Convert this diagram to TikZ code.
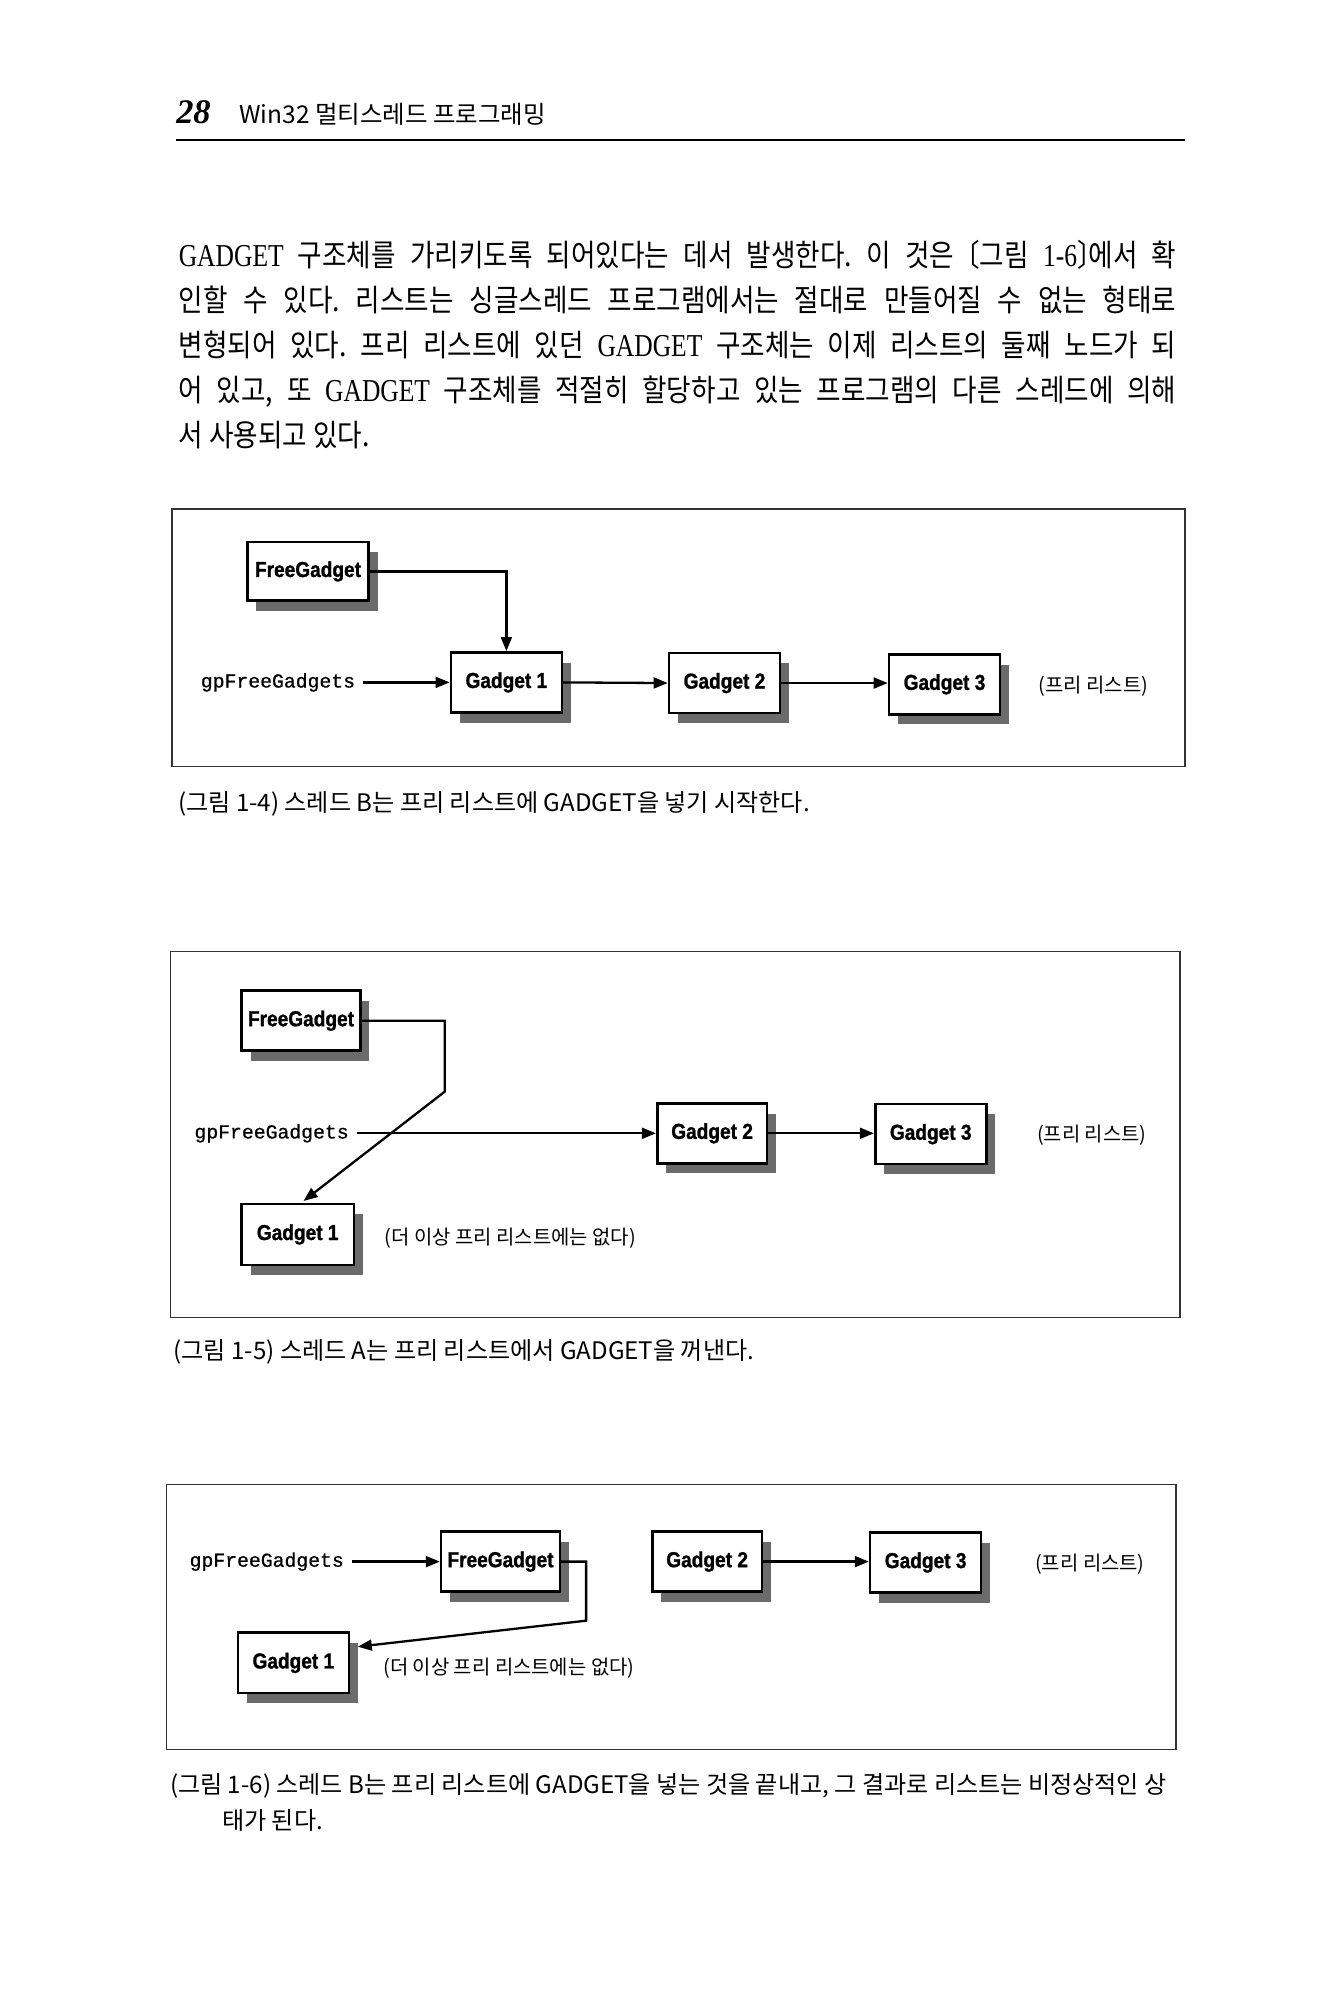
\documentclass[tikz,border=0pt]{standalone}
\usepackage{fontspec}
\usetikzlibrary{arrows.meta,shadows,calc}
\setmainfont{Liberation Serif}
\newfontfamily\krfont{Noto Sans CJK KR}
\newfontfamily\krbodyfont[FakeStretch=0.87]{Noto Sans CJK KR}
\newfontfamily\latbodyfont[FakeStretch=0.8]{Liberation Serif}
\newfontfamily\boxfont[FakeStretch=0.88,FakeBold=1.2]{Liberation Sans Bold}
\newfontfamily\codefont[FakeBold=0.7]{Liberation Mono}
\frenchspacing

% one justified line of the body paragraph
\newcommand\bodyline[1]{{\krbodyfont\fontsize{24}{28}\selectfont\makebox[782pt][s]{#1}}}
\newcommand\bodyleft[1]{{\krbodyfont\fontsize{24}{28}\selectfont #1}}
% Latin words inside the body paragraph
\newcommand\LB[1]{{\latbodyfont\fontsize{25}{28}\selectfont #1}}
% half-width tortoise-shell brackets
\newcommand\lbr{\kern-0.5em〔}
\newcommand\rbr{〕\kern-0.5em}

\tikzset{
  gbox/.style={draw, line width=2pt, fill=white, minimum width=87pt,
    minimum height=47pt, inner sep=0pt,
    font=\boxfont\fontsize{17}{20}\selectfont,
    drop shadow={shadow xshift=7pt, shadow yshift=-8pt, fill=black!58, opacity=1}},
  link/.style={line width=1.8pt, -{Triangle[length=11pt,width=8.5pt]}},
  framebox/.style={line width=1.1pt, draw=black!80},
  code/.style={font=\codefont\fontsize{15.5}{18}\selectfont, inner sep=0pt},
  note/.style={font=\krfont\fontsize{15.6}{18}\selectfont, inner sep=0pt},
  caption/.style={font=\krfont\fontsize{18.9}{22}\selectfont, inner sep=0pt, anchor=base west},
  para/.style={inner sep=0pt, anchor=base west},
}

\begin{document}
\begin{tikzpicture}[x=1pt,y=-1pt]
\useasboundingbox (0,0) rectangle (1045,1568);
\fill[white] (0,0) rectangle (1045,1568);

% ---------- running head ----------
\node[para, font=\bfseries\itshape\fontsize{27}{30}\selectfont] (pageno) at (138,96.7) {28};
\node[para, font=\krfont\fontsize{19.2}{22}\selectfont] (runhead) at (187.4,96.7) {Win32 멀티스레드 프로그래밍};
\draw[line width=1.3pt] (138,109.8) -- (929,109.8);

% ---------- body paragraph ----------
\node[para] (l1) at (140,209) {\bodyline{\LB{GADGET} 구조체를 가리키도록 되어있다는 데서 발생한다. 이 것은 \lbr 그림 \LB{1-6}\rbr 에서 확}};
\node[para] (l2) at (140,244.2) {\bodyline{인할 수 있다. 리스트는 싱글스레드 프로그램에서는 절대로 만들어질 수 없는 형태로}};
\node[para] (l3) at (140,279.5) {\bodyline{변형되어 있다. 프리 리스트에 있던 \LB{GADGET} 구조체는 이제 리스트의 둘째 노드가 되}};
\node[para] (l4) at (140,314.7) {\bodyline{어 있고, 또 \LB{GADGET} 구조체를 적절히 할당하고 있는 프로그램의 다른 스레드에 의해}};
\node[para] (l5) at (140,350) {\bodyleft{서 사용되고 있다.}};

% ---------- figure 1-4 ----------
\draw[framebox] (135,399) rectangle (929,601);
\node[gbox, minimum width=95pt, minimum height=46pt] (fg1) at (241.5,448) {FreeGadget};
\node[gbox] (g1a) at (397,535) {Gadget 1};
\node[gbox] (g2a) at (568,535.5) {Gadget 2};
\node[gbox] (g3a) at (740.5,536.5) {Gadget 3};
\node[code, anchor=east] (gpa) at (278.6,535) {gpFreeGadgets};
\node[note, anchor=west] (fla) at (814.2,538) {(프리 리스트)};
\draw[link] (fg1.east) -| (g1a.north);
\draw[link, shorten <=6pt] (gpa.east) -- (g1a.west);
\draw[link] (g1a.east) -- (g2a.west);
\draw[link] (g2a.east) -- (g3a.west |- g2a.east);
\node[caption] (cap4) at (139.5,636) {(그림 1-4) 스레드 B는 프리 리스트에 GADGET을 넣기 시작한다.};

% ---------- figure 1-5 ----------
\draw[framebox] (133.5,746) rectangle (925,1033);
\node[gbox, minimum width=93pt] (fg2) at (236,800.2) {FreeGadget};
\node[gbox, minimum width=88pt, minimum height=48pt] (g1b) at (233.4,967.8) {Gadget 1};
\node[gbox, minimum width=86pt] (g2b) at (558.3,888.5) {Gadget 2};
\node[gbox] (g3b) at (729.7,889.2) {Gadget 3};
\node[code, anchor=east] (gpb) at (273.6,888.5) {gpFreeGadgets};
\node[note, anchor=west] (flb) at (812.8,890.3) {(프리 리스트)};
\node[note, anchor=west] (gone1) at (301.6,970.8) {(더 이상 프리 리스트에는 없다)};
\coordinate (k2) at (348.7,855.8);
\draw[link, shorten >=2pt] (fg2.east) -| (k2) -- ([xshift=3pt]g1b.north);
\draw[link, shorten <=6pt] (gpb.east) -- (g2b.west);
\draw[link] (g2b.east) -- (g3b.west |- g2b.east);
\node[caption] (cap5) at (135.8,1066) {(그림 1-5) 스레드 A는 프리 리스트에서 GADGET을 꺼낸다.};

% ---------- figure 1-6 ----------
\draw[framebox] (130.5,1164) rectangle (922,1371.4);
\node[gbox, minimum width=93pt] (fg3) at (392.4,1224.3) {FreeGadget};
\node[gbox, minimum width=86pt] (g2c) at (554.4,1224.3) {Gadget 2};
\node[gbox] (g3c) at (725.7,1225) {Gadget 3};
\node[gbox, minimum height=47.5pt] (g1c) at (230,1303.7) {Gadget 1};
\node[code, anchor=east] (gpc) at (269.8,1224.3) {gpFreeGadgets};
\node[note, anchor=west] (flc) at (811.4,1226) {(프리 리스트)};
\node[note, anchor=west] (gone2) at (300.4,1307.9) {(더 이상 프리 리스트에는 없다)};
\coordinate (k3) at (459.5,1270.6);
\draw[link, shorten <=6pt] (gpc.east) -- (fg3.west);
\draw[link] (g2c.east) -- (g3c.west |- g2c.east);
\draw[link] (fg3.east) -| (k3) -- ([xshift=6pt,yshift=12.7pt]g1c.east);
\node[caption] (cap6) at (133.1,1406) {(그림 1-6) 스레드 B는 프리 리스트에 GADGET을 넣는 것을 끝내고, 그 결과로 리스트는 비정상적인 상};
\node[caption] (cap6b) at (173.9,1434) {태가 된다.};
\end{tikzpicture}
\end{document}
